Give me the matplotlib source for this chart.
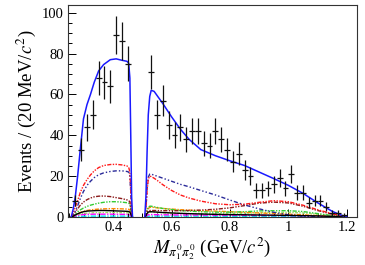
import numpy as np
import matplotlib
matplotlib.use("Agg")
import matplotlib.pyplot as plt
from matplotlib.ticker import MultipleLocator

plt.rcParams['font.family'] = ['Liberation Serif', 'DejaVu Serif']
plt.rcParams['mathtext.fontset'] = 'stix'

# ---- data points (bin centres, counts) ----
data_x1 = [0.27, 0.29, 0.31, 0.33, 0.35, 0.37, 0.39, 0.41, 0.43, 0.45]
data_y1 = [8, 33, 44, 50, 68, 66, 64, 89, 86, 75]
data_x2 = [0.53, 0.55, 0.57, 0.59, 0.61, 0.63, 0.65, 0.67, 0.69, 0.71, 0.73, 0.75,
           0.77, 0.79, 0.81, 0.83, 0.85, 0.87, 0.89, 0.91, 0.93, 0.95, 0.97, 0.99,
           1.01, 1.03, 1.05, 1.07, 1.09, 1.11, 1.13, 1.15, 1.17, 1.19]
data_y2 = [71, 50, 57, 45, 40, 44, 38, 42, 42, 36, 35, 42,
           38, 33, 27, 31, 23, 20, 13, 13, 14, 16, 19, 14,
           21, 12, 12, 7, 8, 8, 5, 2, 2, 1]

# ---- fit curves, region below the veto ----
curve_x1 = [0.256, 0.263, 0.27, 0.278, 0.287, 0.298, 0.31, 0.322, 0.335, 0.35,
            0.367, 0.39, 0.41, 0.43, 0.447, 0.453, 0.457, 0.460, 0.463, 0.466]
total1   = [0, 4, 10, 20, 33, 48, 55, 60, 66, 71.5, 74.6, 77, 77.4, 76.7, 76.2, 75.3, 68, 40, 10, 0]
red1     = [0, 2, 5, 8, 12, 15.5, 18.3, 20.6, 22.6, 24.2, 25.2, 25.7, 25.8, 25.5, 25, 24.3, 22, 13, 3, 0]
navy1    = [0, 1, 3, 5.5, 9, 12.5, 15.5, 17.5, 19.3, 20.7, 21.6, 22.3, 22.6, 22.6, 22.3, 22, 20, 12, 3, 0]
darkred1 = [0, 1, 2.5, 4, 5.8, 7.3, 8.5, 9.3, 9.9, 10.2, 10.3, 10.0, 9.5, 9.0, 8.4, 8.1, 7.3, 4.5, 1, 0]
green1   = [0, 0.6, 1.5, 2.5, 3.5, 4.4, 5.2, 5.8, 6.3, 6.8, 7.2, 7.5, 7.5, 7.3, 7.0, 6.8, 6.2, 3.8, 1, 0]
orange1  = [0, 0.4, 1.0, 1.6, 2.2, 2.8, 3.2, 3.5, 3.7, 3.9, 4.0, 4.1, 4.1, 4.0, 3.9, 3.8, 3.4, 2, 0.5, 0]
black1   = [0, 0.4, 1.0, 1.6, 2.1, 2.6, 2.9, 3.0, 3.1, 3.2, 3.2, 3.1, 3.0, 2.9, 2.8, 2.7, 2.4, 1.5, 0.4, 0]
magenta1 = [0, 0.2, 0.5, 0.8, 1.0, 1.2, 1.3, 1.35, 1.4, 1.4, 1.4, 1.4, 1.35, 1.3, 1.3, 1.25, 1.1, 0.6, 0.2, 0]
cyan1    = [0, 0.1, 0.2, 0.3, 0.35, 0.4, 0.4, 0.45, 0.45, 0.45, 0.45, 0.45, 0.45, 0.45, 0.45, 0.45, 0.4, 0.2, 0.1, 0]
lgreen1  = [0, 0.3, 0.7, 1.1, 1.4, 1.7, 1.9, 2.0, 2.1, 2.2, 2.2, 2.2, 2.2, 2.1, 2.1, 2.0, 1.8, 1.0, 0.3, 0]

# ---- fit curves, region above the veto ----
curve_x2 = [0.508, 0.512, 0.516, 0.52, 0.525, 0.53, 0.54, 0.55, 0.57, 0.6, 0.63, 0.66,
            0.7, 0.75, 0.8, 0.85, 0.9, 0.95, 1.0, 1.05, 1.1, 1.15, 1.18, 1.2]
total2   = [0, 10, 32, 50, 59, 62, 61.5, 59.5, 55.5, 49, 43, 38, 33, 30, 27.5, 25.2, 22, 18.8, 15.5, 11.6, 7, 2.8, 1, 0]
navy2    = [0, 4, 14, 19.5, 21, 21, 20.5, 20, 19, 17.5, 16, 14.8, 13, 10.8, 8.3, 5.9, 4, 2.3, 1.1, 0.4, 0.1, 0, 0, 0]
red2     = [0, 4, 13, 18.5, 20, 19.8, 19, 18, 15.8, 13, 10.8, 9.3, 7.8, 6.5, 6, 6.3, 7.2, 8, 7.5, 5.8, 3.6, 1.6, 0.6, 0]
darkred2 = [0, 1, 2.5, 3.0, 3.2, 3.2, 3.2, 3.2, 3.1, 3.1, 3.1, 3.2, 3.4, 3.8, 4.5, 5.6, 6.8, 7.3, 6.9, 5.3, 3.2, 1.4, 0.5, 0]
green2   = [0, 1, 3.5, 4.8, 5.3, 5.3, 5.0, 4.7, 4.2, 3.7, 3.2, 2.9, 2.6, 2.4, 2.4, 2.6, 3.0, 3.1, 3.1, 2.7, 1.7, 0.7, 0.2, 0]
orange2  = [0, 1, 3, 4.2, 4.7, 4.8, 4.7, 4.5, 4.2, 3.9, 3.6, 3.4, 3.1, 2.9, 2.6, 2.3, 2.0, 1.7, 1.4, 1.1, 0.7, 0.3, 0.1, 0]
black2   = [0, 0.6, 1.8, 2.4, 2.6, 2.6, 2.5, 2.4, 2.2, 2.0, 1.8, 1.65, 1.5, 1.3, 1.2, 1.1, 1.0, 0.9, 0.8, 0.7, 0.55, 0.3, 0.1, 0]
magenta2 = [0, 0.3, 0.8, 1.1, 1.2, 1.2, 1.2, 1.15, 1.1, 1.05, 1.0, 1.0, 0.95, 0.9, 0.9, 0.85, 0.8, 0.75, 0.7, 0.6, 0.45, 0.25, 0.1, 0]
cyan2    = [0, 0.1, 0.3, 0.4, 0.45, 0.45, 0.45, 0.45, 0.45, 0.45, 0.45, 0.45, 0.45, 0.4, 0.4, 0.4, 0.4, 0.35, 0.35, 0.3, 0.25, 0.15, 0.05, 0]
lgreen2  = [0, 0.5, 1.5, 2.2, 2.5, 2.5, 2.4, 2.3, 2.1, 1.9, 1.8, 1.7, 1.6, 1.6, 1.7, 1.9, 2.1, 2.3, 2.3, 2.0, 1.4, 0.6, 0.2, 0]

fig = plt.figure(figsize=(3.65, 2.65), dpi=100)
ax = fig.add_axes([0.1863, 0.181, 0.7917, 0.802])

comps = [
    (lgreen1, lgreen2, '#99dd66', (0, (2, 1, 1, 1))),
    (cyan1, cyan2, '#00e5ee', (0, (4, 1, 1, 1))),
    (magenta1, magenta2, '#ff00ff', (0, (4, 1, 1, 1))),
    (orange1, orange2, '#ff8800', (0, (3, 1, 1, 1))),
    (green1, green2, '#33cc33', (0, (3, 1, 1, 1, 1, 1))),
    (darkred1, darkred2, '#8b1a1a', (0, (3, 1, 1, 1, 1, 1))),
    (navy1, navy2, '#2a2a99', (0, (3, 1.5, 1, 1.5, 1, 1.5))),
    (red1, red2, '#ff1a1a', (0, (3, 1, 1, 1, 1, 1))),
]
for y1, y2, col, ls in comps:
    ax.plot(curve_x1, y1, color=col, lw=1.0, linestyle=ls)
    ax.plot(curve_x2, y2, color=col, lw=1.0, linestyle=ls)
ax.plot(curve_x1, black1, color='black', lw=1.0)
ax.plot(curve_x2, black2, color='black', lw=1.0)

ax.plot(curve_x1, total1, color='#1a1aff', lw=1.1)
ax.plot(curve_x2, total2, color='#1a1aff', lw=1.1)

for dx, dy in ((data_x1, data_y1), (data_x2, data_y2)):
    dy = np.array(dy, dtype=float)
    ax.errorbar(dx, dy, xerr=0.01, yerr=np.sqrt(dy), fmt='none',
                ecolor='#111111', elinewidth=0.9, capsize=0)

ax.set_xlim(0.245, 1.235)
ax.set_ylim(0, 104)
ax.xaxis.set_major_locator(MultipleLocator(0.2))
ax.xaxis.set_minor_locator(MultipleLocator(0.05))
ax.yaxis.set_major_locator(MultipleLocator(20))
ax.yaxis.set_minor_locator(MultipleLocator(5))
ax.set_xticks([0.4, 0.6, 0.8, 1.0, 1.2])
ax.set_xticklabels(['0.4', '0.6', '0.8', '1', '1.2'])
ax.tick_params(which='major', direction='in', length=5.5, width=0.7, labelsize=10.5, pad=3)
ax.tick_params(which='minor', direction='in', length=2.8, width=0.7)
for s in ax.spines.values():
    s.set_linewidth(0.8)
    s.set_color('#333333')

ax.set_ylabel(r'Events / (20 MeV/$c^2$)', fontsize=13.5, labelpad=3)
ax.set_xlabel(r'$M_{\pi^0_1\pi^0_2}$ (GeV/$c^2$)', fontsize=13.5, labelpad=1)

fig.savefig('out.png', dpi=100)
